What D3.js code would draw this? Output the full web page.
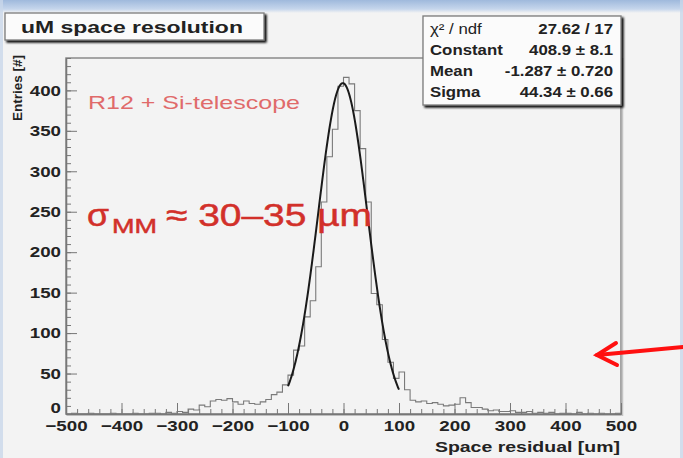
<!DOCTYPE html>
<html>
<head>
<meta charset="utf-8">
<script src="https://cdn.jsdelivr.net/npm/d3@7"></script>
<style>
  body { margin:0; background:#f3f3f3; }
  svg text { font-family: "Liberation Sans", Arial, sans-serif; }
</style>
</head>
<body>
<div id="hist"></div>
<script>
// bin low edges, 10 um wide, -500 .. 490
var binEdges = d3.range(-500, 500, 10);
// entries per bin
var counts = [
  0,1,0,0,1,0,0,0,1,0,  0,0,1,0,0,1,1,0,2,1,
  3,2,6,5,11,9,16,18,17,19,  15,12,16,13,12,15,18,24,27,36,
  48,79,84,120,140,182,262,318,352,405,  416,408,375,328,262,149,135,92,64,44,
  52,30,17,15,16,13,14,12,10,11,  12,20,14,8,8,6,4,5,3,3,
  4,2,2,3,1,2,1,2,0,1,  1,0,2,0,1,0,1,0,0,1
];
var xTicks = [-500,-400,-300,-200,-100,0,100,200,300,400,500];
var yTicks = [0,50,100,150,200,250,300,350,400];
var statNames = ["\u03c7\u00b2 / ndf", "Constant", "Mean", "Sigma"];
var statValues = ["27.62 / 17", "408.9 \u00b1 8.1", "-1.287 \u00b1 0.720", "44.34 \u00b1 0.66"];
var fitParams = [408.9, -1.287, 44.34]; // constant, mean, sigma
var fitRange = [-100, 100];

var W = 683, H = 458;
var svg = d3.select("#hist").append("svg").attr("width", W).attr("height", H);

// the slide picture is stretched sideways, so text gets a scaleX
function stext(x, y, sx, anchor, str){
  return svg.append("g").attr("transform","translate("+x+","+y+") scale("+sx+",1)")
    .append("text").attr("text-anchor", anchor).text(str);
}

// slide background bits
var defs = svg.append("defs");
var g1 = defs.append("linearGradient").attr("id","topblue").attr("x1",0).attr("y1",0).attr("x2",0).attr("y2",1);
g1.append("stop").attr("offset","0%").attr("stop-color","#9fb9dc");
g1.append("stop").attr("offset","70%").attr("stop-color","#c6d6ec");
g1.append("stop").attr("offset","100%").attr("stop-color","#f3f3f3");
var sh = defs.append("filter").attr("id","shadow").attr("x","-5%").attr("y","-5%").attr("width","115%").attr("height","130%");
sh.append("feGaussianBlur").attr("in","SourceAlpha").attr("stdDeviation",1.2).attr("result","b");
sh.append("feOffset").attr("in","b").attr("dx",2).attr("dy",2).attr("result","o");
var fm = sh.append("feMerge");
fm.append("feMergeNode").attr("in","o");
fm.append("feMergeNode").attr("in","SourceGraphic");

svg.append("rect").attr("width",W).attr("height",H).attr("fill","#f3f3f3");
svg.append("rect").attr("width",W).attr("height",13).attr("fill","url(#topblue)");
svg.append("rect").attr("x",0).attr("y",0).attr("width",3).attr("height",H).attr("fill","#c9d7ea").attr("opacity",0.8);
svg.append("rect").attr("x",W-3).attr("y",0).attr("width",3).attr("height",H).attr("fill","#c9d7ea").attr("opacity",0.8);

var x = d3.scaleLinear().domain([-500, 500]).range([66, 621]);
var y = d3.scaleLinear().domain([0, 440]).range([414, 58]);

// frame
svg.append("rect")
  .attr("x", x(-500)).attr("y", y(440))
  .attr("width", x(500) - x(-500)).attr("height", y(0) - y(440))
  .attr("fill", "none").attr("stroke", "#8a8a8a").attr("stroke-width", 1.5);
svg.append("line").attr("x1", x(500)+1.5).attr("x2", x(500)+1.5).attr("y1", y(440)).attr("y2", y(0)+2)
  .attr("stroke","#c4c4c4").attr("stroke-width",1.5);

// axes with inner ticks
var xAxis = svg.append("g").attr("transform","translate(0,"+y(0)+")")
  .call(d3.axisBottom(x).tickValues(xTicks).tickSizeInner(-11).tickSizeOuter(0).tickPadding(6).tickFormat(d3.format("d")));
var xMinor = svg.append("g").attr("transform","translate(0,"+y(0)+")")
  .call(d3.axisBottom(x).tickValues(d3.range(-500, 501, 20)).tickSizeInner(-5).tickSizeOuter(0).tickFormat(""));
var yAxis = svg.append("g").attr("transform","translate("+x(-500)+",0)")
  .call(d3.axisLeft(y).tickValues(yTicks).tickSizeInner(-11).tickSizeOuter(0).tickPadding(4));
var yMinor = svg.append("g").attr("transform","translate("+x(-500)+",0)")
  .call(d3.axisLeft(y).tickValues(d3.range(0, 441, 10)).tickSizeInner(-5).tickSizeOuter(0).tickFormat(""));

[xAxis, xMinor, yAxis, yMinor].forEach(function(a){
  a.select(".domain").attr("stroke","#777").attr("stroke-width",1.3);
  a.selectAll(".tick line").attr("stroke","#777");
  a.selectAll("text").attr("fill","#222").style("font-size","15px").style("font-weight","bold")
    .attr("transform","scale(1.25,1)");
});
xAxis.selectAll("text").attr("dy","0.71em");
// ROOT puts the 0 label a bit higher, just above the -500
yAxis.selectAll(".tick text").filter(function(d){ return d === 0; }).attr("dy","-0.08em");

// histogram outline
var pts = binEdges.map(function(e, i){ return [e, counts[i]]; });
pts.push([500, counts[counts.length-1]]);
svg.append("path")
  .datum(pts)
  .attr("fill","none")
  .attr("stroke","#7a7a7a")
  .attr("stroke-width",1.1)
  .attr("d", d3.line().x(function(d){ return x(d[0]); }).y(function(d){ return y(d[1]); }).curve(d3.curveStepAfter));

// gaussian fit
function gaus(v){ return fitParams[0] * Math.exp(-0.5 * Math.pow((v - fitParams[1]) / fitParams[2], 2)); }
var fitPts = d3.range(fitRange[0], fitRange[1] + 0.5, 1).map(function(v){ return [v, gaus(v)]; });
svg.append("path")
  .datum(fitPts)
  .attr("fill","none")
  .attr("stroke","#1a1a1a")
  .attr("stroke-width",2)
  .attr("d", d3.line().x(function(d){ return x(d[0]); }).y(function(d){ return y(d[1]); }));

// title box
svg.append("rect").attr("x",5).attr("y",13).attr("width",259).attr("height",27)
  .attr("fill","#fbfbfb").attr("stroke","#7a7a7a").attr("stroke-width",1.3).style("filter","url(#shadow)");
stext(132, 33, 1.35, "middle", "uM space resolution")
  .style("font-size","17px").style("font-weight","bold").attr("fill","#222");

// stats box
svg.append("rect").attr("x",423).attr("y",16).attr("width",198).attr("height",89)
  .attr("fill","#fbfbfb").attr("stroke","#7a7a7a").attr("stroke-width",1.3).style("filter","url(#shadow)");
var rowY = [34, 55, 76, 97];
statNames.forEach(function(s, i){
  stext(430, rowY[i], 1.2, "start", s)
    .style("font-size","14px").style("font-weight", i == 0 ? "normal" : "bold").attr("fill","#222");
});
statValues.forEach(function(s, i){
  stext(613, rowY[i], 1.2, "end", s)
    .style("font-size","14px").style("font-weight","bold").attr("fill","#222");
});

// axis titles
svg.append("text").attr("transform","translate(22,55) rotate(-90)").attr("text-anchor","end")
  .style("font-size","13.5px").style("font-weight","bold").attr("fill","#222").text("Entries [#]");
stext(620, 452, 1.3, "end", "Space residual [um]")
  .style("font-size","15px").style("font-weight","bold").attr("fill","#222");

// annotations
svg.append("text").attr("x",88).attr("y",109)
  .attr("textLength",212).attr("lengthAdjust","spacingAndGlyphs")
  .style("font-size","19px").attr("fill","#e06a6a").text("R12 + Si-telescope");
var sig = svg.append("text").attr("y",226).attr("fill","#d2302a").style("font-size","32px")
  .attr("stroke","#d2302a").attr("stroke-width",0.5);
sig.append("tspan").attr("x",87).attr("textLength",22).attr("lengthAdjust","spacingAndGlyphs").text("\u03c3");
sig.append("tspan").attr("x",112).attr("dy",7).attr("textLength",45).attr("lengthAdjust","spacingAndGlyphs")
  .style("font-size","21px").text("MM");
sig.append("tspan").attr("x",166).attr("dy",-7).attr("textLength",206).attr("lengthAdjust","spacingAndGlyphs")
  .text("\u2248 30\u201335 \u00b5m");

// red arrow
var arrow = svg.append("g").attr("stroke","#ff1010").attr("stroke-width",4).attr("fill","none").attr("stroke-linecap","round");
arrow.append("line").attr("x1",W).attr("y1",347).attr("x2",597).attr("y2",355);
arrow.append("polyline").attr("points","616,343 597,355 617,365").attr("stroke-linejoin","miter");
</script>
</body>
</html>
